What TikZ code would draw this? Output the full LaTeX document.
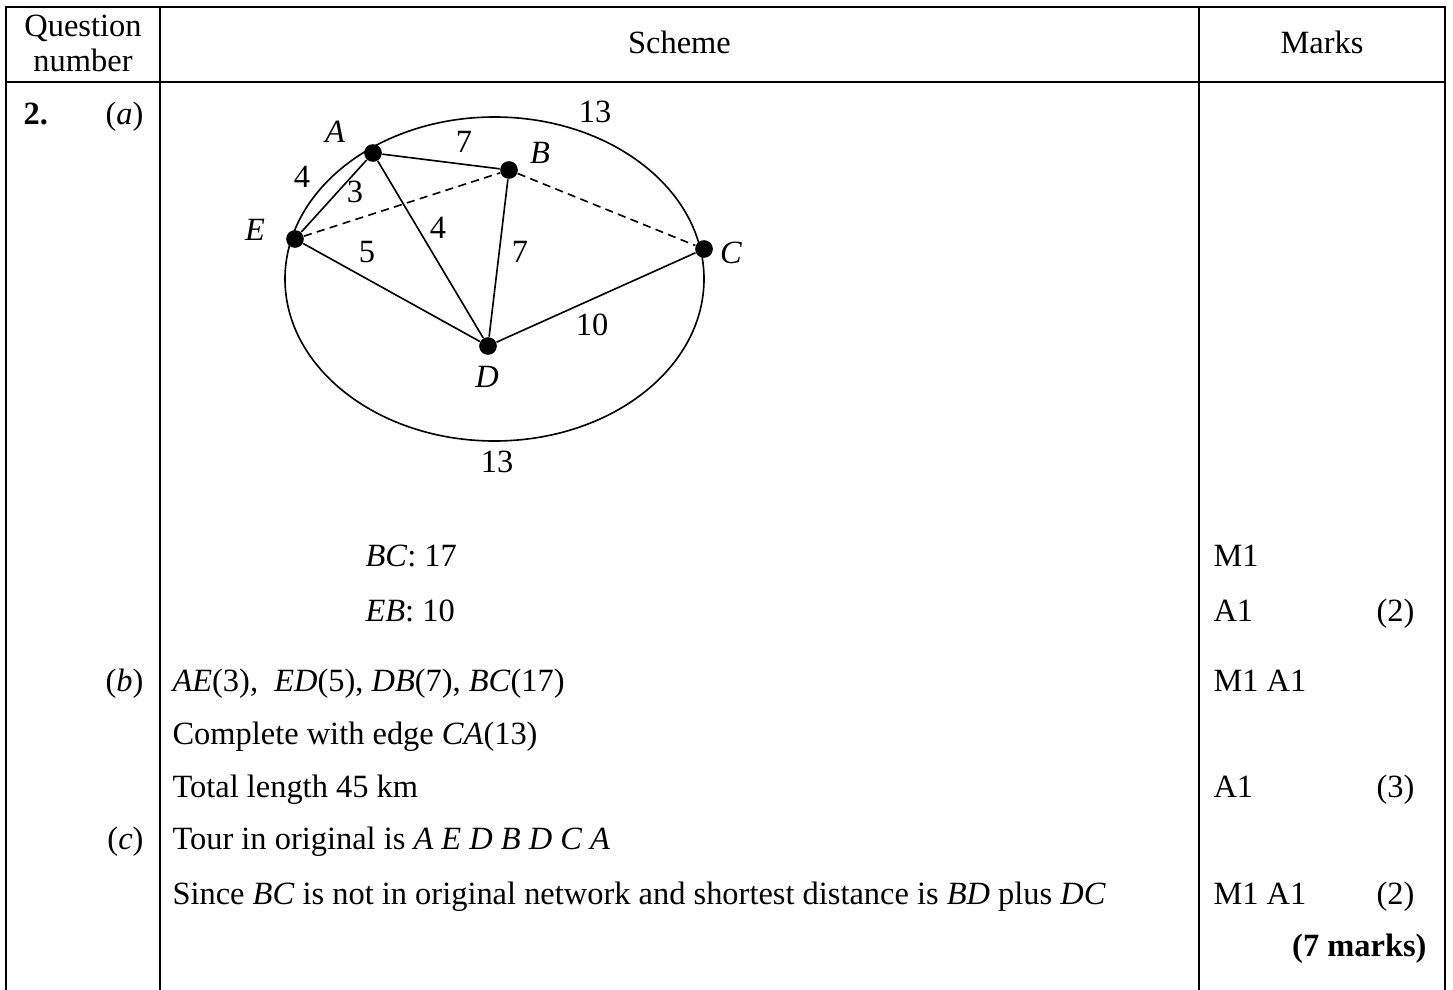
\documentclass[tikz,border=0pt]{standalone}
\usepackage{fontspec}
\setmainfont{Liberation Serif}
\usetikzlibrary{positioning}
\tikzset{
  regla/.style={line width=0.8pt},
  arista/.style={line width=0.6pt},
  discont/.style={arista,dash pattern=on 3pt off 2pt},
  vertice/.style={circle,fill=black,inner sep=0pt,minimum size=2.3mm},
  txt/.style={inner sep=0pt,font=\fontsize{12}{14}\selectfont},
  izq/.style={txt,anchor=base west},
  der/.style={txt,anchor=base east},
}
\begin{document}
\begin{tikzpicture}[x=0.013cm,y=-0.013cm]
\useasboundingbox (0,0) rectangle (1453,990);
% table rules
\draw[regla] (6,990) -- (6,7) -- (1445,7) -- (1445,990);
\draw[regla] (6,82) -- (1445,82);
\draw[regla] (160,7) -- (160,990);
\draw[regla] (1199,7) -- (1199,990);
% header
\node[txt,anchor=base] (q1) at (83,37) {Question};
\node[txt,anchor=base] (q2) at (83,72) {number};
\node[txt,anchor=base] (sch) at (679.5,54) {Scheme};
\node[txt,anchor=base] (mk) at (1322,54) {Marks};
\node[izq] (qno) at (23,125) {\textbf{2.}};
\node[der] (pa) at (144,125) {(\textit{a})};
% network
\draw[arista] (494.5,279) ellipse [x radius=209.5, y radius=162];
\node[vertice] (A) at (373,153) {};
\node[vertice] (B) at (509,170) {};
\node[vertice] (C) at (704,249) {};
\node[vertice] (D) at (488,346) {};
\node[vertice] (E) at (295,239) {};
\draw[arista] (E) -- (A);
\draw[arista] (A) -- (B);
\draw[arista] (A) -- (D);
\draw[arista] (B) -- (D);
\draw[arista] (E) -- (D);
\draw[arista] (D) -- (C);
\draw[discont] (E) -- (B);
\draw[discont] (B) -- (C);
\node[txt] (lA) at (335,132) {\textit{A}};
\node[txt] (lB) at (540,153) {\textit{B}};
\node[txt] (lC) at (731,253) {\textit{C}};
\node[txt] (lD) at (487,377) {\textit{D}};
\node[txt] (lE) at (255,230) {\textit{E}};
\node[txt] (wAC) at (595,112) {13};
\node[txt] (wAB) at (464,142) {7};
\node[txt] (wEAc) at (302,177) {4};
\node[txt] (wEA) at (355,192) {3};
\node[txt] (wAD) at (438,228) {4};
\node[txt] (wED) at (367,252) {5};
\node[txt] (wBD) at (520,252) {7};
\node[txt] (wDC) at (592,325) {10};
\node[txt] (wEC) at (497,462) {13};
% part (a)
\node[izq] (bc) at (365,566) {\textit{BC}: 17};
\node[izq] (eb) at (365,621) {\textit{EB}: 10};
\node[izq] (ma1) at (1213,566) {M1};
\node[izq] (ma2) at (1213,621) {A1};
\node[der] (sa) at (1415,621) {(2)};
% part (b)
\node[der] (pb) at (144,691) {(\textit{b})};
\node[izq] (b1) at (172,691) {\textit{AE}(3),\ \ \textit{ED}(5), \textit{DB}(7), \textit{BC}(17)};
\node[izq] (b2) at (172,744) {Complete with edge \textit{CA}(13)};
\node[izq] (b3) at (172,797) {Total length 45 km};
\node[izq] (mb1) at (1213,691) {M1 A1};
\node[izq] (mb2) at (1213,797) {A1};
\node[der] (sb) at (1415,797) {(3)};
% part (c)
\node[der] (pc) at (144,849) {(\textit{c})};
\node[izq] (c1) at (172,849) {Tour in original is \textit{A E D B D C A}};
\node[izq] (c2) at (172,904) {Since \textit{BC} is not in original network and shortest distance is \textit{BD} plus \textit{DC}};
\node[izq] (mc1) at (1213,904) {M1 A1};
\node[der] (sc) at (1415,904) {(2)};
\node[der] (tot) at (1427,956) {\textbf{(7 marks)}};
\end{tikzpicture}
\end{document}
